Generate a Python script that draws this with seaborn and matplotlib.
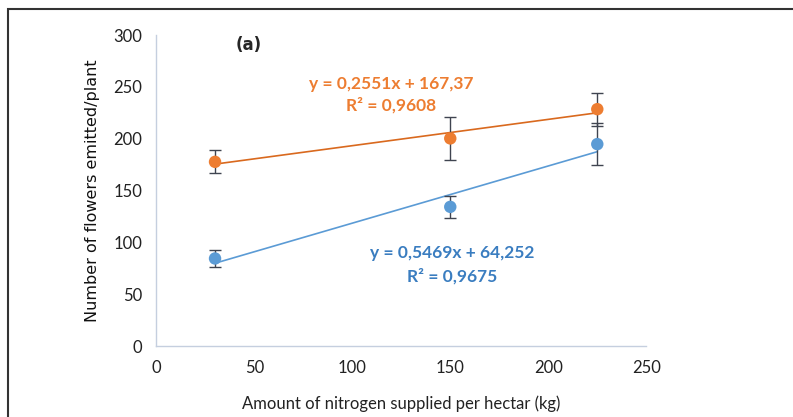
import numpy as np
import pandas as pd
import matplotlib.pyplot as plt
import seaborn as sns
from matplotlib.patches import Rectangle

# data
nitrogen = [30, 150, 225]
flowers_orange = [177.7, 200.3, 228.5]
err_orange = [11.0, 20.5, 16.0]
flowers_blue = [84.5, 134.3, 194.8]
err_blue = [8.0, 10.5, 20.0]

eq_orange = ["y = 0,2551x + 167,37", "R² = 0,9608"]
eq_blue = ["y = 0,5469x + 64,252", "R² = 0,9675"]

sns.set_style("white")
plt.rcParams['font.family'] = ['Lato', 'DejaVu Sans']

orange = "#ED7D31"
orange_line = "#D9691E"
blue = "#5B9BD5"
blue_line = "#5B9BD5"

fig = plt.figure(figsize=(7.93, 4.17), dpi=100)
ax = fig.add_axes([0.197, 0.170, 0.618, 0.746])

df_o = pd.DataFrame({'N': nitrogen, 'F': flowers_orange, 'E': err_orange})
df_b = pd.DataFrame({'N': nitrogen, 'F': flowers_blue, 'E': err_blue})

for d, c, lc in [(df_b, blue, blue_line), (df_o, orange, orange_line)]:
    sns.regplot(data=d, x='N', y='F', scatter=False, ci=None, ax=ax,
                line_kws=dict(color=lc, lw=1.2))
    ax.errorbar(d['N'], d['F'], yerr=d['E'], fmt='none', ecolor='#3f4450',
                elinewidth=1, capsize=4, capthick=1, zorder=3)
    sns.scatterplot(data=d, x='N', y='F', color=c, s=80, edgecolor='none',
                    ax=ax, zorder=4)

ax.set_xlim(0, 250)
ax.set_ylim(0, 300)
ax.set_xticks(range(0, 251, 50))
ax.set_yticks(range(0, 301, 50))
ax.tick_params(labelsize=12, colors='#222222', length=0, pad=10)
for s in ['top', 'right']:
    ax.spines[s].set_visible(False)
for s in ['left', 'bottom']:
    ax.spines[s].set_color('#c5cfdf')
    ax.spines[s].set_linewidth(1)

ax.set_xlabel('Amount of nitrogen supplied per hectar (kg)', fontsize=12,
              color='#222222', labelpad=14)
ax.set_ylabel('Number of flowers emitted/plant', fontsize=11.5,
              family='DejaVu Sans', color='#111111', labelpad=10)

ax.text(47, 290, '(a)', fontsize=12, fontweight='bold', family='DejaVu Sans',
        ha='center', va='center')
ax.text(120, 253, eq_orange[0], color=orange, fontsize=12.5, fontweight='bold', ha='center', va='center')
ax.text(120, 232, eq_orange[1], color=orange, fontsize=12.5, fontweight='bold', ha='center', va='center')
ax.text(151, 90, eq_blue[0], color="#3A7DC0", fontsize=12.5, fontweight='bold', ha='center', va='center')
ax.text(151, 67, eq_blue[1], color="#3A7DC0", fontsize=12.5, fontweight='bold', ha='center', va='center')

fig.patches.append(Rectangle((8 / 793, -0.1), 1.2, 1 - 9 / 417 + 0.1,
                             transform=fig.transFigure, fill=False,
                             edgecolor='#333333', lw=1.5))

fig.savefig('out.png', dpi=100)
